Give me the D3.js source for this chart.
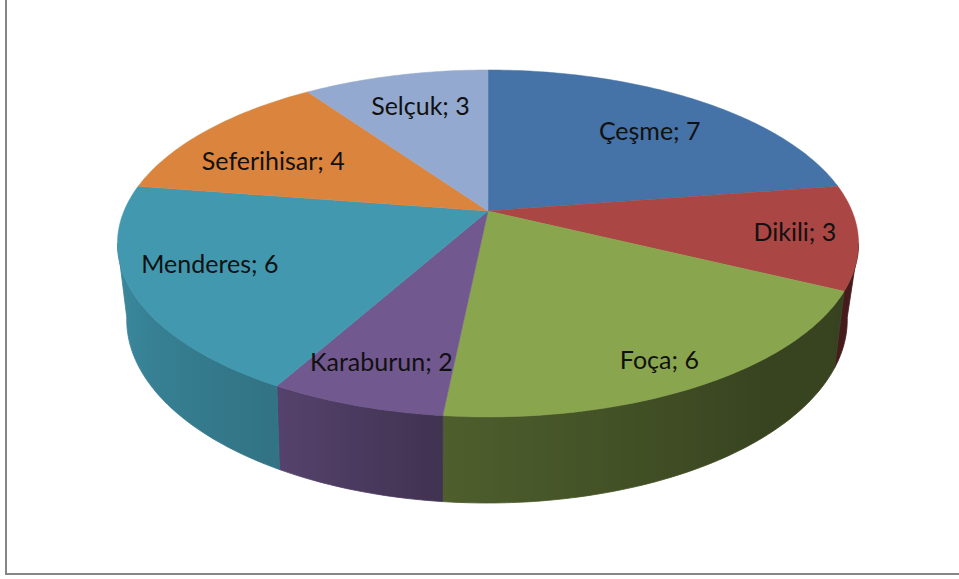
<!DOCTYPE html>
<html>
<head>
<meta charset="utf-8">
<script src="https://cdn.jsdelivr.net/npm/d3@7"></script>
<style>
	html, body { margin: 0; padding: 0; background: #fff; overflow: hidden; }
	text { font-family: Lato, "Open Sans", sans-serif; }
</style>
</head>
<body>
<svg id="chart" width="959" height="579"></svg>
<script>
var categories = ["Çeşme", "Dikili", "Foça", "Karaburun", "Menderes", "Seferihisar", "Selçuk"];
var counts = [7, 3, 6, 2, 6, 4, 3];
var colors = ["#4572A7", "#AA4643", "#89A54E", "#71588F", "#4198AF", "#DB843D", "#93A9CF"];

var svg = d3.select("#chart");
var defs = svg.append("defs");

// chart frame, only the left and bottom edges are inside the crop
svg.append("path")
	.attr("d", "M6,0V574H959")
	.attr("fill", "none")
	.attr("stroke", "#868686")
	.attr("stroke-width", 2);

// the pie is a tilted disc, so both rims get their own perspective
var topRim = { cx: 488, cy: 211, rx: 364, ry: 167.4, k: 0.187 };
var bottomRim = { cx: 487, cy: 283, rx: 353, ry: 176, k: 0.2 };

function project(rim, angle, r) {
	var x = Math.sin(angle) * r;
	var y = -Math.cos(angle) * r;
	var w = 1 - rim.k * y;
	return [rim.cx + rim.rx * x / w, rim.cy + rim.ry * y / w];
}

var pie = d3.pie().sort(null).value(function(d) { return d; });
var arcs = pie(counts);
var line = d3.line();
var deg = Math.PI / 180;

function arcAngles(a0, a1) {
	var n = Math.max(1, Math.ceil((a1 - a0) / deg));
	return d3.range(n + 1).map(function(i) { return a0 + (a1 - a0) * i / n; });
}

// side wall brightness, by angle on the rim
var shade = d3.scaleLinear()
	.domain([100, 140, 186, 209, 259])
	.range([0.40, 0.41, 0.57, 0.76, 0.92])
	.clamp(true);

var sideStart = 100.8 * deg;
var sideEnd = 259.2 * deg;

var sides = svg.append("g");
arcs.forEach(function(d, i) {
	var a0 = Math.max(d.startAngle, sideStart);
	var a1 = Math.min(d.endAngle, sideEnd);
	if (a1 <= a0) return;
	var steps = arcAngles(a0, a1);

	// horizontal gradient, one stop per step along the rim
	var xs = steps.map(function(a) { return project(topRim, a, 1)[0]; });
	var x0 = d3.min(xs);
	var x1 = d3.max(xs);
	var gradient = defs.append("linearGradient")
		.attr("id", "side" + i)
		.attr("gradientUnits", "userSpaceOnUse")
		.attr("x1", x0).attr("x2", x1)
		.attr("y1", 0).attr("y2", 0);
	var c = d3.rgb(colors[i]);
	steps.slice().reverse().forEach(function(a) {
		var f = shade(a / deg);
		gradient.append("stop")
			.attr("offset", (project(topRim, a, 1)[0] - x0) / (x1 - x0))
			.attr("stop-color", d3.rgb(c.r * f, c.g * f, c.b * f).formatHex());
	});

	var upper = steps.map(function(a) { return project(topRim, a, 1); });
	var lower = steps.slice().reverse().map(function(a) { return project(bottomRim, a, 1); });
	sides.append("path")
		.attr("d", line(upper.concat(lower)) + "Z")
		.attr("fill", "url(#side" + i + ")")
		.attr("stroke", "url(#side" + i + ")")
		.attr("stroke-width", 0.8);
});

// top face
svg.append("g").selectAll("path")
	.data(arcs)
	.enter()
	.append("path")
		.attr("d", function(d) {
			var rim = arcAngles(d.startAngle, d.endAngle).map(function(a) {
				return project(topRim, a, 1);
			});
			return line([[topRim.cx, topRim.cy]].concat(rim)) + "Z";
		})
		.attr("fill", function(d, i) { return colors[i]; })
		.attr("stroke", function(d, i) { return colors[i]; })
		.attr("stroke-width", 0.5);

// labels sit at a per-slice fraction of the radius
var labelRadius = [0.75, 0.83, 0.85, 0.82, 0.79, 0.75, 0.72];
var labelNudgeX = [1, 1, -3, -2, -2, 1, 2];
var labelNudgeY = [6, 0, 5, -2, -9, 12, -3];

svg.append("g").selectAll("text")
	.data(arcs)
	.enter()
	.append("text")
		.attr("transform", function(d, i) {
			var p = project(topRim, (d.startAngle + d.endAngle) / 2, labelRadius[i]);
			return "translate(" + (p[0] + labelNudgeX[i]) + "," + (p[1] + labelNudgeY[i]) + ")";
		})
		.attr("text-anchor", "middle")
		.attr("dy", "0.35em")
		.attr("font-size", 25)
		.attr("fill", "#111")
		.text(function(d, i) { return categories[i] + "; " + d.value; });
</script>
</body>
</html>
